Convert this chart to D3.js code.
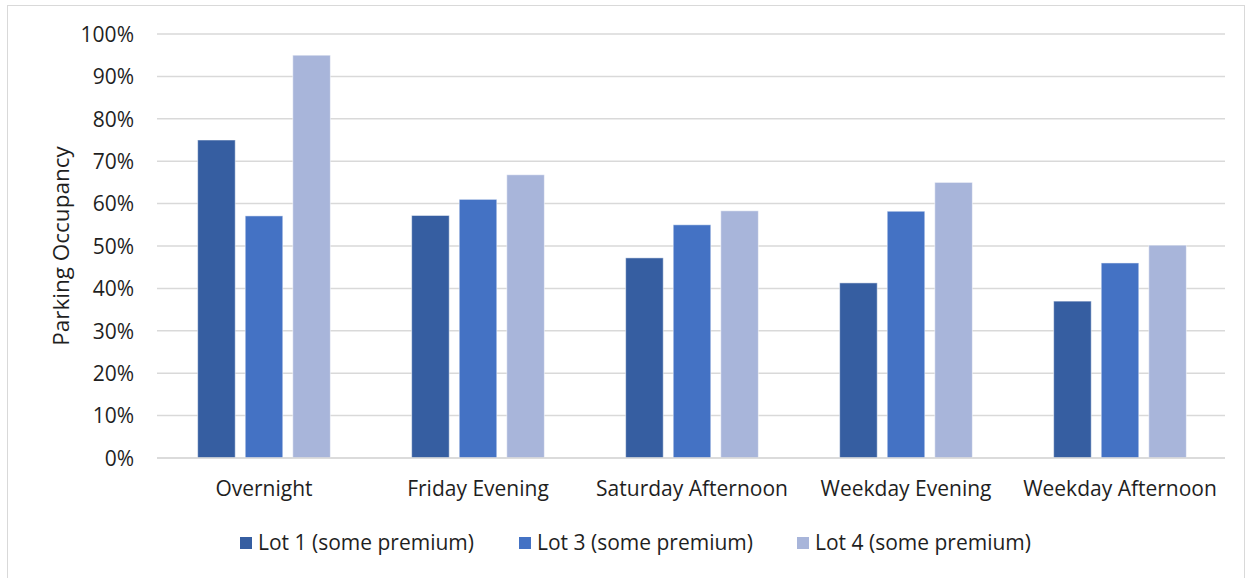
<!DOCTYPE html>
<html><head><meta charset="utf-8">
<script src="https://cdn.jsdelivr.net/npm/d3@7"></script>
<style>
html,body{margin:0;padding:0;background:#fff;}
text{font-family:"Open Sans",sans-serif;fill:#1f1f1f;}
</style></head>
<body><svg id="c" width="1252" height="578"></svg>
<script>
const categories = ["Overnight","Friday Evening","Saturday Afternoon","Weekday Evening","Weekday Afternoon"];
const seriesNames = ["Lot 1 (some premium)","Lot 3 (some premium)","Lot 4 (some premium)"];
const lot1 = [0.75, 0.572, 0.472, 0.413, 0.37];
const lot3 = [0.571, 0.61, 0.55, 0.582, 0.46];
const lot4 = [0.95, 0.668, 0.583, 0.65, 0.502];
const yTicks = [0,0.1,0.2,0.3,0.4,0.5,0.6,0.7,0.8,0.9,1.0];
const colors = ["#365EA1","#4472C4","#A8B5DA"];
const seriesValues = [lot1, lot3, lot4];

const svg = d3.select("#c");
svg.append("rect").attr("x",7.5).attr("y",5.5).attr("width",1237).attr("height",590)
  .attr("fill","none").attr("stroke","#d9d9d9");

const pL=157, pR=1227, pT=34, pB=458;
const x0 = d3.scaleBand().domain(categories).range([pL,pR]).padding(0);
const bw = x0.bandwidth();
const x1 = d3.scaleBand().domain(seriesNames).range([bw*0.19, bw*0.81]).paddingInner(0.21);
const y = d3.scaleLinear().domain([0,1]).range([pB,pT]);

svg.append("g").selectAll("line").data(yTicks).join("line")
  .attr("x1",pL).attr("x2",pR-2)
  .attr("y1",d=>y(d)).attr("y2",d=>y(d))
  .attr("stroke","#d9d9d9").attr("stroke-width",1.5);

const yAxis = d3.axisLeft(y).tickValues(yTicks).tickFormat(d3.format(".0%")).tickSize(0).tickPadding(0);
const ga = svg.append("g").attr("transform",`translate(134,0)`).call(yAxis);
ga.select(".domain").remove();
ga.selectAll("text").style("font-size","21px").style("font-family","'Open Sans',sans-serif").attr("fill","#1f1f1f").attr("dy","0.35em");

const g = svg.append("g");
categories.forEach((c,i)=>{
  seriesNames.forEach((s,j)=>{
    const v = seriesValues[j][i];
    g.append("rect")
      .attr("x", x0(c)+x1(s)).attr("width", x1.bandwidth())
      .attr("y", y(v)).attr("height", y(0)-y(v))
      .attr("fill", colors[j]).attr("stroke","#ffffff").attr("stroke-opacity",0.5).attr("stroke-width",1);
  });
});

const xAxis = d3.axisBottom(x0).tickSize(0).tickPadding(0);
const gx = svg.append("g").attr("transform",`translate(0,${pB})`).call(xAxis);
gx.select(".domain").remove();
gx.selectAll("text").style("font-size","21px").style("font-family","'Open Sans',sans-serif").attr("fill","#1f1f1f").attr("y",38).attr("dy",null);
svg.append("line").attr("x1",pL).attr("x2",pR-2).attr("y1",pB).attr("y2",pB)
  .attr("stroke","#d9d9d9").attr("stroke-width",1.5);

svg.append("text").attr("transform",`translate(69,${(pT+pB)/2}) rotate(-90)`)
  .attr("text-anchor","middle").style("font-size","22.5px").text("Parking Occupancy");

const legX = [240, 519, 797];
const lg = svg.append("g");
seriesNames.forEach((s,j)=>{
  lg.append("rect").attr("x",legX[j]).attr("y",537).attr("width",12).attr("height",12).attr("fill",colors[j]);
  lg.append("text").attr("x",legX[j]+18).attr("y",550).style("font-size","21px").text(s);
});
</script></body></html>
